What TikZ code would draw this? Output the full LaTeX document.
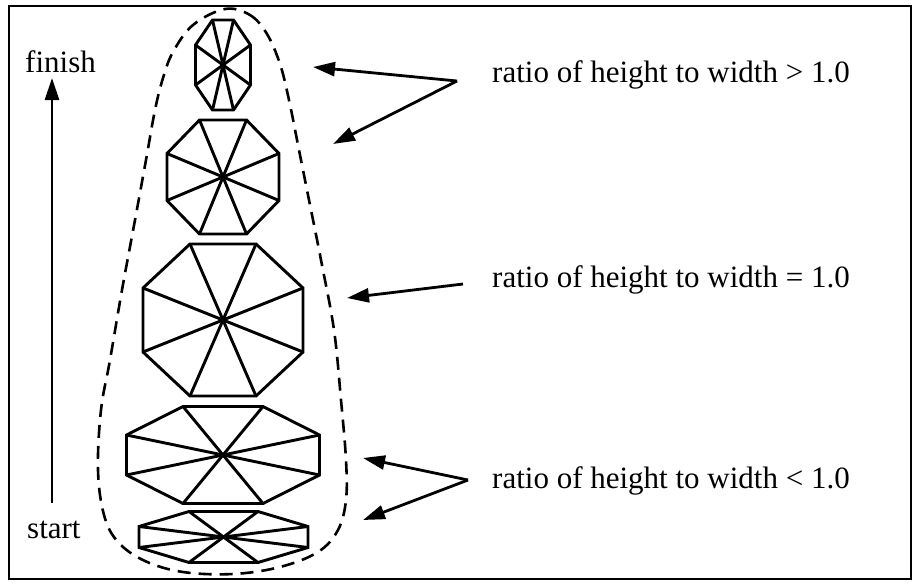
\documentclass[tikz,border=0pt]{standalone}
\usepackage{fontspec}
\setmainfont{Liberation Serif}
\usetikzlibrary{arrows.meta}
\newcommand\octagonshape[6]{% cx cy W H a s
  \draw[octline] (#1-#5,#2-#4) -- (#1+#5,#2-#4) -- (#1+#3,#2-#6) -- (#1+#3,#2+#6)
     -- (#1+#5,#2+#4) -- (#1-#5,#2+#4) -- (#1-#3,#2+#6) -- (#1-#3,#2-#6) -- cycle;
  \draw[octline] (#1-#5,#2-#4) -- (#1+#5,#2+#4);
  \draw[octline] (#1+#5,#2-#4) -- (#1-#5,#2+#4);
  \draw[octline] (#1+#3,#2-#6) -- (#1-#3,#2+#6);
  \draw[octline] (#1+#3,#2+#6) -- (#1-#3,#2-#6);
}
\tikzset{
  octline/.style={line width=2.9pt, line join=miter},
  frameline/.style={line width=2.9pt},
  outline/.style={line width=2.6pt, dash pattern=on 13pt off 8pt},
  pointer/.style={line width=2.8pt, -{Triangle[length=22pt,width=14pt]}},
  label/.style={font=\fontsize{31}{37}\selectfont, inner sep=0pt, anchor=base west},
}
\begin{document}
\begin{tikzpicture}[x=1pt,y=-1pt]
\useasboundingbox (0,0) rectangle (913,582);
\draw[frameline] (9,6) rectangle (911,579);

% octagons
\octagonshape{223}{65}{27.5}{45}{10.5}{20}
\octagonshape{223}{177}{56}{57}{23.5}{23.5}
\octagonshape{223}{320}{80}{76}{33}{32}
\octagonshape{223}{455}{96.5}{48.5}{40}{20}
\octagonshape{223.5}{537}{84.5}{25.5}{34.5}{10.5}

% dashed outline
\draw[outline] plot[smooth cycle, tension=0.6] coordinates {
 (225,9) (250,15) (267,34) (280,64) (289,100) (299,150) (309,200) (321,260)
 (334,330) (341,400) (346,460) (346,500) (338,530) (318,552) (280,567) (233,574)
 (183,572) (145,561) (118,542) (104,515) (98,470) (101,410) (110,360) (122,290)
 (135,220) (146,160) (155,110) (163,78) (173,52) (193,25)};

% start / finish
\node[label] (finish) at (25,72) {finish};
\node[label] (start) at (27,538) {start};
\coordinate (upfrom) at (52,503);
\coordinate (upto) at (52,78);
\draw[pointer] (upfrom) -- (upto);

% labels
\node[label] (gt) at (492,82) {ratio of height to width > 1.0};
\node[label] (eq) at (492,287) {ratio of height to width = 1.0};
\node[label] (lt) at (492,488) {ratio of height to width < 1.0};

\coordinate (gtsrc) at (457,81);
\coordinate (gtA) at (313,67);
\coordinate (gtB) at (333,144);
\coordinate (eqsrc) at (463,284);
\coordinate (eqA) at (347,298);
\coordinate (ltsrc) at (468,480);
\coordinate (ltA) at (363,458);
\coordinate (ltB) at (363,520);

\draw[pointer] (gtsrc) -- (gtA);
\draw[pointer] (gtsrc) -- (gtB);
\draw[pointer] (eqsrc) -- (eqA);
\draw[pointer] (ltsrc) -- (ltA);
\draw[pointer] (ltsrc) -- (ltB);
\end{tikzpicture}
\end{document}
